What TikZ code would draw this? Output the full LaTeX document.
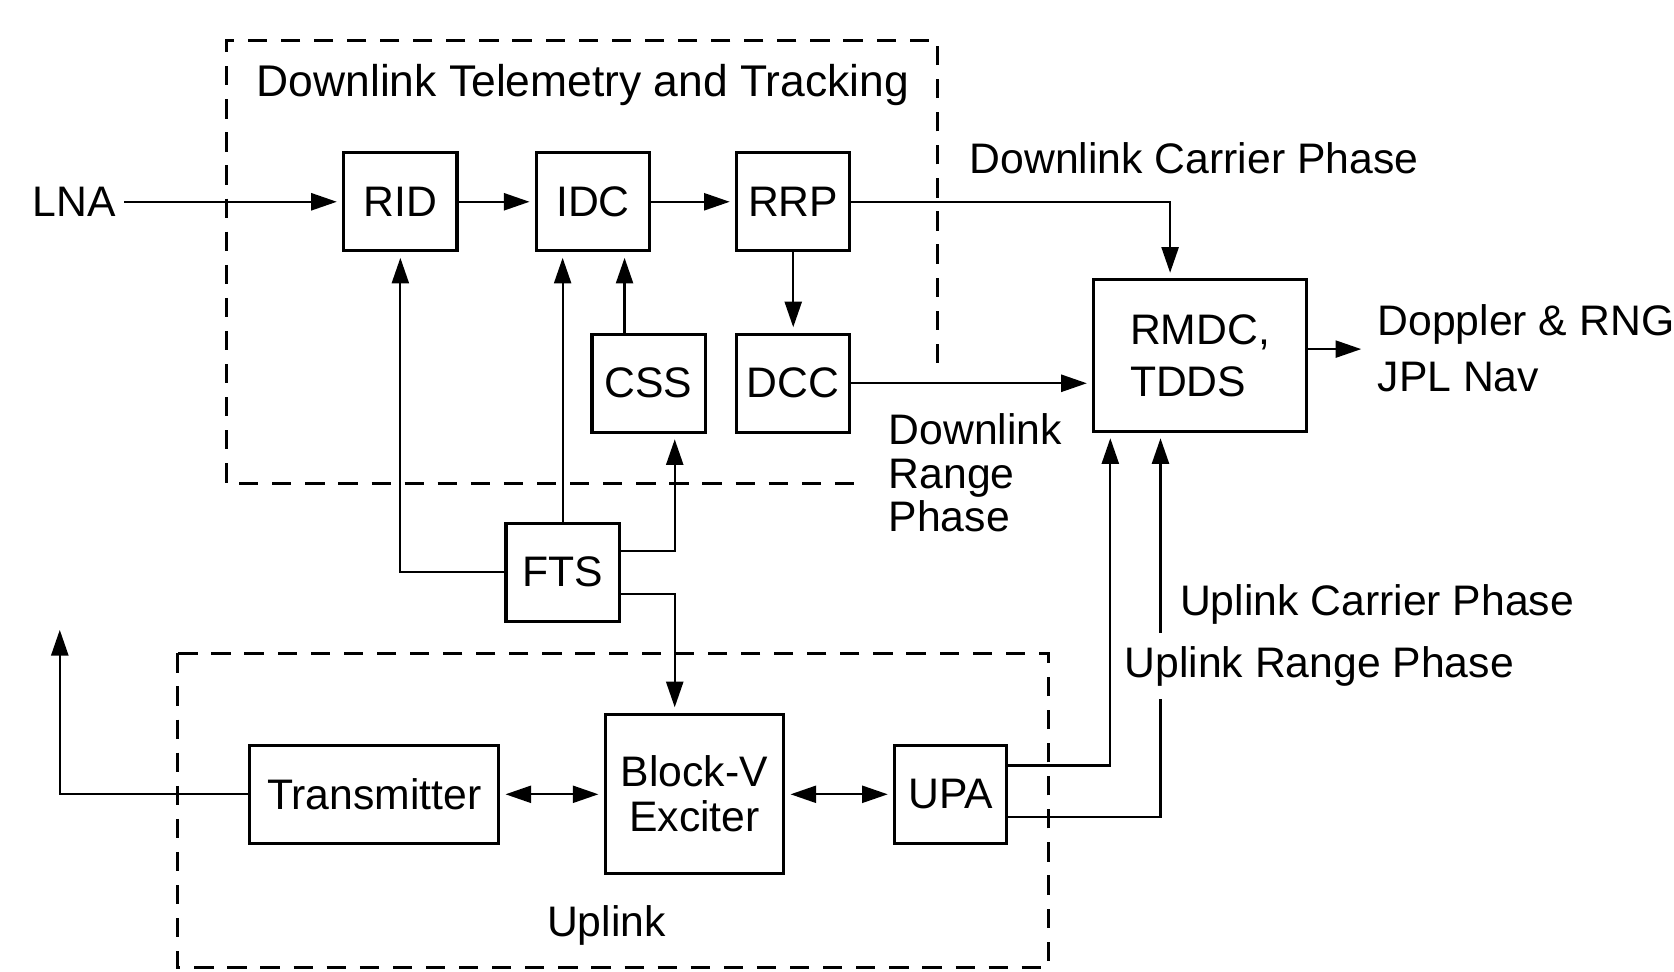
\documentclass[tikz,border=0pt]{standalone}
\usepackage{fontspec}
\setmainfont{Liberation Sans}
\usetikzlibrary{arrows.meta}
\begin{document}
\begin{tikzpicture}[x=0.5pt,y=-0.5pt,
  box/.style={draw,line width=1.5pt,minimum width=53pt,minimum height=46pt,inner sep=0pt,font=\fontsize{20}{24}\selectfont},
  ln/.style={line width=1pt},
  arr/.style={ln,-{Triangle[length=12pt,width=8pt]},shorten >=2.5pt},
  darr/.style={ln,{Triangle[length=12pt,width=8pt]}-{Triangle[length=12pt,width=8pt]},shorten >=2.5pt,shorten <=2.5pt},
  dashbox/.style={line width=1.6pt,dash pattern=on 9pt off 6.5pt},
  lbl/.style={anchor=west,inner sep=0pt,font=\fontsize{20}{24}\selectfont}]
\useasboundingbox (0,0) rectangle (1568,910);

% dashed group frames
\draw[dashbox] (878,340) -- (878,38) -- (212,38) -- (212,453) -- (808,453);
\draw[dashbox] (166,612) rectangle (982,906);

% blocks
\node[box] (rid) at (375,189) {RID};
\node[box] (idc) at (555.5,189) {IDC};
\node[box] (rrp) at (743,189) {RRP};
\node[box] (css) at (607.5,359) {CSS};
\node[box] (dcc) at (743,359) {DCC};
\node[box,minimum width=99.5pt,minimum height=71pt,align=left,font=\fontsize{20}{24.5}\selectfont] (rmdc) at (1124,333) {RMDC,\\TDDS};
\node[box] (fts) at (527,536) {FTS};
\node[box,minimum width=116.5pt] (tx) at (350.5,744) {Transmitter};
\node[box,minimum width=83.5pt,minimum height=74.5pt,align=center,font=\fontsize{20}{21.5}\selectfont] (bv) at (650.5,743.5) {Block-V\\Exciter};
\node[box,minimum width=52.5pt] (upa) at (890.5,744) {UPA};

% labels
\node[lbl] (lna) at (30,189) {LNA};
\node[lbl,font=\fontsize{20.8}{24}\selectfont] (title) at (240,80) {Downlink Telemetry and Tracking};
\node[lbl] (dcp) at (908,148) {Downlink Carrier Phase};
\node[lbl,align=left,font=\fontsize{20}{20.5}\selectfont] (drp) at (832,443) {Downlink\\Range\\Phase};
\node[lbl] (dop) at (1290,326) [align=left,font=\fontsize{20}{26}\selectfont] {Doppler \& RNG\\JPL Nav};
\node[inner sep=0pt,font=\fontsize{20}{24}\selectfont] (upl) at (568,867) {Uplink};

% helper coordinates
\coordinate (xA) at (585,0);
\coordinate (xB) at (632,0);
\coordinate (yA) at (0,516);
\coordinate (yB) at (0,556);
\coordinate (xC) at (1040,0);
\coordinate (xD) at (1087,0);
\coordinate (xE) at (1096,0);
\coordinate (yC) at (0,717);
\coordinate (yD) at (0,765);
\coordinate (tout) at (56,590);
\coordinate (out) at (1275,327);

% connectors
\draw[arr,shorten <=4pt] (lna.east) -- (rid.west);
\draw[arr] (rid) -- (idc);
\draw[arr] (idc) -- (rrp);
\draw[arr] (rrp) -- (dcc);
\draw[arr] (rrp.east) -| (xE |- rmdc.north);
\draw[arr] (dcc.east) -- (dcc.east -| rmdc.west);
\draw[arr] (xA |- css.north) -- (xA |- idc.south);
\draw[arr] (fts.west) -| (rid.south);
\draw[arr] (fts.north) -- (fts.north |- idc.south);
\draw[arr] (fts.east |- yA) -| (xB |- css.south);
\draw[arr] (fts.east |- yB) -| (xB |- bv.north);
\draw[darr] (tx.east) -- (tx.east -| bv.west);
\draw[darr] (bv.east |- upa.west) -- (upa.west);
\draw[arr,shorten >=0pt] (tx.west) -| (tout);
\draw[arr] (upa.east |- yC) -| (xC |- rmdc.south);
\draw[arr] (upa.east |- yD) -| (xD |- rmdc.south);
\draw[arr,shorten >=0pt] (rmdc.east |- out) -- (out);

% labels over the uplink phase lines
\node[lbl] (ucp) at (1105,566) {Uplink Carrier Phase};
\node[lbl,fill=white,inner xsep=2pt,inner ysep=6pt] (urp) at (1049,624) {Uplink Range Phase};
\end{tikzpicture}
\end{document}
